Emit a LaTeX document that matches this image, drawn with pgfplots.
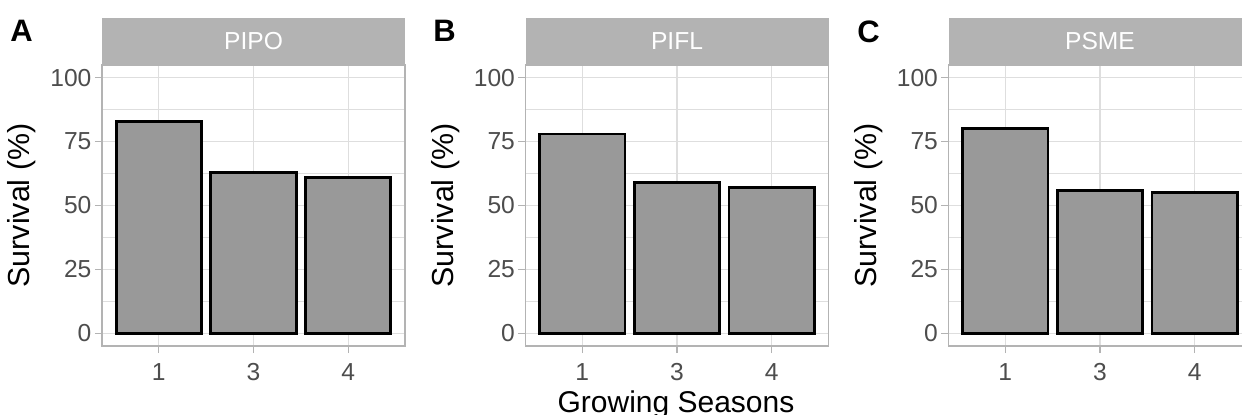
\documentclass[border=0pt]{standalone}
\usepackage{pgfplots}
\pgfplotsset{compat=1.18}
\usepackage{fontspec}
\setmainfont{Liberation Sans}

\definecolor{grey70}{HTML}{B3B3B3}
\definecolor{grey87}{HTML}{DEDEDE}
\definecolor{grey30}{HTML}{4D4D4D}
\definecolor{barfill}{HTML}{999999}

% one facet of the figure (1px of the reference = 0.5pt)
\pgfplotsset{
  panel/.style={
    scale only axis, width=151.5pt, height=140.5pt,
    anchor=north west,
    xmin=0.4, xmax=3.6, ymin=-5, ymax=105,
    xtick={1,2,3}, xticklabels={1,3,4},
    ytick={0,25,50,75,100}, yticklabels={0,25,50,75,100},
    minor ytick={12.5,37.5,62.5,87.5},
    grid=both,
    major grid style={grey87, line width=0.6pt},
    minor grid style={grey87, line width=0.35pt},
    axis line style={grey70, line width=0.8pt},
    tick align=outside, xtick pos=bottom, ytick pos=left,
    major tick length=3.6pt, minor tick length=0pt,
    tick style={grey70, line width=0.6pt},
    ticklabel style={font=\fontsize{12.3}{14}\selectfont, text=grey30},
    xticklabel style={anchor=north, inner sep=0pt, yshift=-5pt},
    yticklabel style={anchor=east, inner sep=0pt, xshift=-1.5pt},
    ylabel={Survival (\%)},
    every axis y label/.style={at={(axis description cs:-0.264,0.5)},
      rotate=90, anchor=center, font=\fontsize{15.2}{17}\selectfont},
    ybar, bar width=0.9,
  },
  bars/.style={fill=barfill, draw=black, line width=1.4pt},
}
\tikzset{
  strip/.style={text=white, font=\fontsize{12.3}{14}\selectfont},
  tag/.style={anchor=north west, inner sep=0pt, font=\bfseries\fontsize{15.5}{17}\selectfont},
}

\begin{document}
\begin{tikzpicture}
  % A: PIPO
  \begin{axis}[panel, name=pa, at={(51pt,-32.5pt)}]
    \addplot[bars] coordinates {(1,83) (2,63) (3,61)};
  \end{axis}
  \fill[grey70] (pa.north west) rectangle ([yshift=23.5pt]pa.north east);
  \node[strip] at ([yshift=11.75pt]pa.north) {PIPO};
  \node[tag] at (5pt,-10pt) {A};

  % B: PIFL
  \begin{axis}[panel, name=pb, at={(262.75pt,-32.5pt)}]
    \addplot[bars] coordinates {(1,78) (2,59) (3,57)};
  \end{axis}
  \fill[grey70] (pb.north west) rectangle ([yshift=23.5pt]pb.north east);
  \node[strip] at ([yshift=11.75pt]pb.north) {PIFL};
  \node[tag] at (216.5pt,-10pt) {B};

  % C: PSME
  \begin{axis}[panel, name=pc, at={(474.25pt,-32.5pt)}]
    \addplot[bars] coordinates {(1,80) (2,56) (3,55)};
  \end{axis}
  \fill[grey70] (pc.north west) rectangle ([yshift=23.5pt]pc.north east);
  \node[strip] at ([yshift=11.75pt]pc.north) {PSME};
  \node[tag] at (428.5pt,-10pt) {C};

  \node[anchor=north, inner sep=0pt, font=\fontsize{15}{17}\selectfont]
    at (338pt,-195pt) {Growing Seasons};

  % the reference is cut at its right and bottom edges
  \pgfresetboundingbox
  \useasboundingbox (0,0) rectangle (621pt,-207.5pt);
\end{tikzpicture}
\end{document}
